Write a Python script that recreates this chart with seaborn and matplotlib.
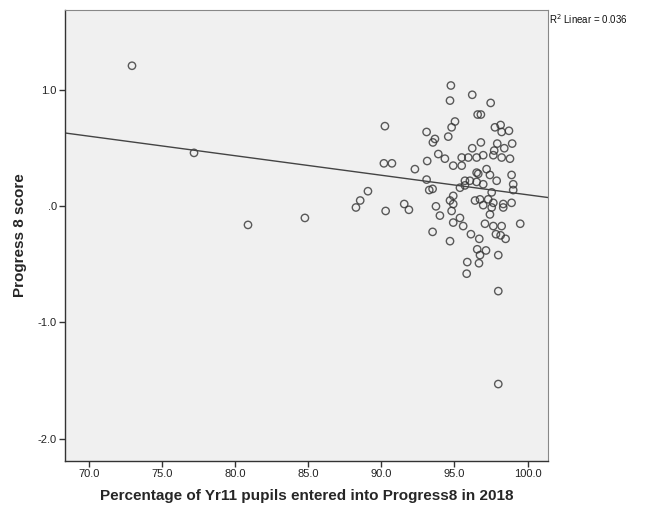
import numpy as np
import matplotlib
matplotlib.use("Agg")
import matplotlib.pyplot as plt
import seaborn as sns

# Percentage of Yr11 pupils entered, and Progress 8 score
pct_entered = [
    72.96, 77.20, 80.89, 84.78, 88.27, 88.56, 89.09,
    90.25, 93.10, 93.53, 93.67,
    94.76, 94.70, 96.22, 97.48, 96.59, 96.81, 95.04, 94.81, 94.58, 97.77,
    98.16, 98.23, 98.73, 96.22, 96.81, 97.72, 97.93, 98.41, 98.95,
    90.18, 90.73, 92.30, 93.14, 93.90, 93.10, 93.28, 93.51,
    91.57, 91.89, 90.30, 93.74, 94.01, 93.51,
    94.35, 94.92, 95.50, 95.95, 95.50, 96.52, 96.97, 97.66, 98.23, 98.80,
    97.20, 96.52, 96.63, 97.43, 98.91, 95.72, 96.06, 96.52, 96.97, 97.89,
    99.02, 95.38, 95.72, 94.92, 97.55, 99.02, 94.70, 94.92, 96.41, 96.75,
    97.31, 97.66, 98.34, 98.91, 94.81, 96.97, 97.55, 98.34, 97.43,
    95.38, 94.92, 95.60, 97.09, 97.66, 98.23, 99.50,
    94.70, 96.13, 96.70, 97.84, 98.16, 98.50, 96.56, 96.75, 97.16, 98.00,
    95.88, 96.68, 95.84, 98.00, 98.00,
]
p8_score = [
    1.21, 0.46, -0.16, -0.10, -0.01, 0.05, 0.13,
    0.69, 0.64, 0.55, 0.58,
    1.04, 0.91, 0.96, 0.89, 0.79, 0.79, 0.73, 0.68, 0.60, 0.68,
    0.70, 0.64, 0.65, 0.50, 0.55, 0.48, 0.54, 0.50, 0.54,
    0.37, 0.37, 0.32, 0.39, 0.45, 0.23, 0.14, 0.15,
    0.02, -0.03, -0.04, 0.00, -0.08, -0.22,
    0.41, 0.35, 0.42, 0.42, 0.35, 0.42, 0.44, 0.44, 0.42, 0.41,
    0.32, 0.29, 0.28, 0.27, 0.27, 0.22, 0.22, 0.21, 0.19, 0.22,
    0.19, 0.16, 0.18, 0.09, 0.12, 0.14, 0.05, 0.02, 0.05, 0.06,
    0.06, 0.03, 0.02, 0.03, -0.04, 0.01, -0.01, -0.01, -0.07,
    -0.10, -0.14, -0.17, -0.15, -0.17, -0.17, -0.15,
    -0.30, -0.24, -0.28, -0.24, -0.25, -0.28, -0.37, -0.42, -0.38, -0.42,
    -0.48, -0.49, -0.58, -0.73, -1.53,
]

x_ticks = [70, 75, 80, 85, 90, 95, 100]
x_tick_labels = ["70.0", "75.0", "80.0", "85.0", "90.0", "95.0", "100.0"]
y_ticks = [-2, -1, 0, 1]
y_tick_labels = ["-2.0", "-1.0", ".0", "1.0"]

sns.set_style("white")
plt.rcParams["font.family"] = ["Liberation Sans", "DejaVu Sans"]

fig = plt.figure(figsize=(6.51, 5.15), dpi=100)
ax = fig.add_axes([0.1003, 0.1054, 0.7415, 0.8752])
ax.set_facecolor("#f0f0f0")

# limits first so the fit line spans the whole plot area
ax.set_xlim(68.4, 101.4)
ax.set_ylim(-2.19, 1.69)

sns.regplot(x=np.array(pct_entered), y=np.array(p8_score), ax=ax, ci=None,
            truncate=False, color="#333333",
            scatter_kws=dict(facecolors="none", edgecolors="#333333",
                             s=28, linewidths=1.0),
            line_kws=dict(color="#444444", lw=1.0))

ax.set_xlim(68.4, 101.4)
ax.set_ylim(-2.19, 1.69)

ax.set_xticks(x_ticks)
ax.set_xticklabels(x_tick_labels)
ax.set_yticks(y_ticks)
ax.set_yticklabels(y_tick_labels)
ax.tick_params(axis="both", direction="out", length=4, width=1,
               color="#333333", labelsize=8, labelcolor="#222222", pad=2)
ax.tick_params(top=False, right=False, bottom=True, left=True)

for side in ["left", "bottom"]:
    ax.spines[side].set_color("#333333")
    ax.spines[side].set_linewidth(1.0)
for side in ["top", "right"]:
    ax.spines[side].set_color("#888888")
    ax.spines[side].set_linewidth(0.8)

ax.set_xlabel("Percentage of Yr11 pupils entered into Progress8 in 2018",
              fontsize=11, fontweight="bold", labelpad=7)
ax.set_ylabel("Progress 8 score", fontsize=11, fontweight="bold", labelpad=8)

fig.text(0.8435, 0.963, r"R$^2$ Linear = 0.036", fontsize=7, color="#111111",
         ha="left", va="center")

plt.savefig("out.png", dpi=100)
